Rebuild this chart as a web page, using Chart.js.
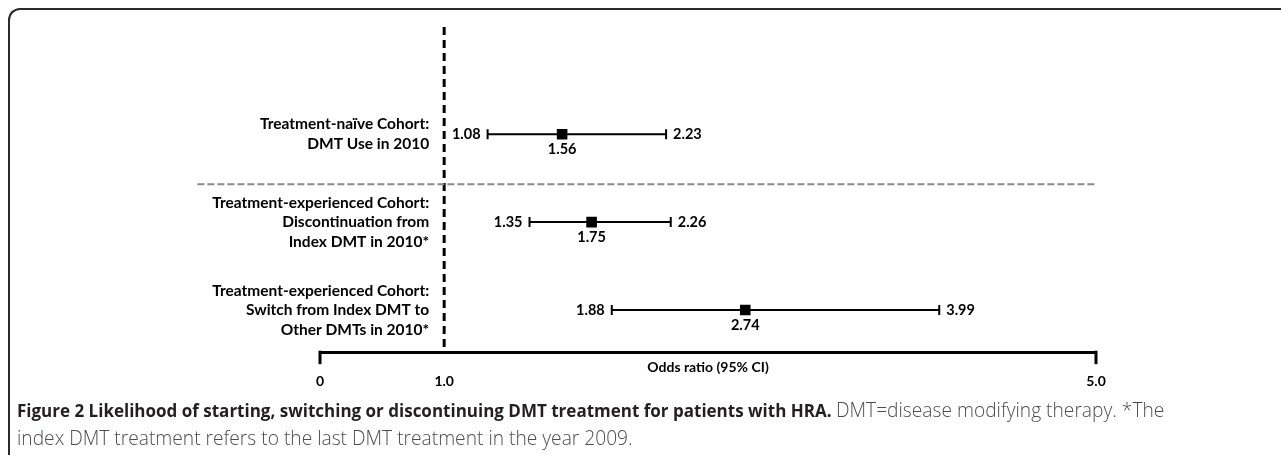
<!DOCTYPE html>
<html lang="en">
<head>
<meta charset="utf-8">
<title>Figure 2</title>
<script src="https://cdn.jsdelivr.net/npm/chart.js@4.4.0/dist/chart.umd.min.js"></script>
<style>
  html, body { margin: 0; padding: 0; background: #fff; }
  body { width: 1281px; height: 455px; position: relative; overflow: hidden; }
  #marco {
    position: absolute; left: 8px; top: 8px; width: 1320px; height: 500px;
    border-left: 2px solid #2b2b2b; border-top: 2px solid #2b2b2b;
    border-top-left-radius: 12px; box-sizing: border-box;
  }
  #grafico { position: absolute; left: 0; top: 0; }
  #leyenda {
    position: absolute; left: 17px; top: 396px; width: 1260px; white-space: nowrap;
    font-family: "Open Sans", sans-serif; font-size: 17px; line-height: 27px; color: #4d4d4d;
  }
  #leyenda b { color: #231f20; font-weight: 700; }
  #leyenda span { font-weight: 300; font-size: 19.2px; }
</style>
</head>
<body>
<div id="marco"></div>
<canvas id="grafico" width="1281" height="420"></canvas>
<div id="leyenda"><b>Figure 2 Likelihood of starting, switching or discontinuing DMT treatment for patients with HRA.</b> <span>DMT=disease modifying therapy. *The<br>index DMT treatment refers to the last DMT treatment in the year 2009.</span></div>

<script>
// ====== DATOS ======
// Etiquetas de cada fila (cada una en varias líneas)
const categorias = [
  ['Treatment-naïve Cohort:', 'DMT Use in 2010'],
  ['Treatment-experienced Cohort:', 'Discontinuation from', 'Index DMT in 2010*'],
  ['Treatment-experienced Cohort:', 'Switch from Index DMT to', 'Other DMTs in 2010*']
];
const oddsRatio = [1.56, 1.75, 2.74]; // punto central
const icBajo = [1.08, 1.35, 1.88];    // límite inferior IC 95%
const icAlto = [2.23, 2.26, 3.99];    // límite superior IC 95%
const filas = [1, 2, 3];              // posición de cada fila en el eje y

// Ticks del eje x (en la figura la línea "1.0" está dibujada en esta posición)
const ticksX = [0, 0.8, 5];
const ticksXTexto = ['0', '1.0', '5.0'];
const lineaRef = 0.8;
// Separador gris entre cohortes
const separadorY = 1.57;
const separadorX = [-0.79, 4.99];

const FUENTE = 'Lato, "Open Sans", sans-serif';

// ====== DATASETS ======
// Una línea por intervalo de confianza, con topes verticales
const datasetsIC = filas.map((f, i) => ({
  type: 'scatter',
  data: [{ x: icBajo[i], y: f }, { x: icAlto[i], y: f }],
  showLine: true,
  borderColor: '#000',
  borderWidth: 2,
  pointStyle: 'line',
  rotation: 90,
  pointRadius: 5,
  pointBorderWidth: 2,
  pointBorderColor: '#000'
}));

// Cuadrados del odds ratio
const datasetPuntos = {
  type: 'scatter',
  data: filas.map((f, i) => ({ x: oddsRatio[i], y: f })),
  pointStyle: 'rect',
  pointRadius: 7.5,
  backgroundColor: '#000',
  borderColor: '#000',
  borderWidth: 0
};

// Línea vertical discontinua de referencia
const datasetRef = {
  type: 'scatter',
  data: [{ x: lineaRef, y: -0.22 }, { x: lineaRef, y: 3.48 }],
  showLine: true,
  borderColor: '#000',
  borderWidth: 3,
  borderDash: [8, 5],
  pointRadius: 0
};

// Separador horizontal gris
const datasetSeparador = {
  type: 'scatter',
  data: separadorX.map(x => ({ x: x, y: separadorY })),
  showLine: true,
  borderColor: '#8a8a8a',
  borderWidth: 2,
  borderDash: [7, 3],
  pointRadius: 0,
  clip: false
};

// ====== PLUGIN DE TEXTOS ======
// Dibuja etiquetas de filas, valores, topes del eje y título del eje
const textos = {
  id: 'textos',
  afterDraw(chart) {
    const ctx = chart.ctx;
    const xs = chart.scales.x;
    const ys = chart.scales.y;
    ctx.save();
    ctx.fillStyle = '#000';

    // Etiquetas de las filas (alineadas a la derecha de la línea de referencia)
    ctx.font = 'bold 15.5px ' + FUENTE;
    ctx.textAlign = 'right';
    ctx.textBaseline = 'middle';
    const xEtiq = xs.getPixelForValue(lineaRef) - 15;
    categorias.forEach((lineas, i) => {
      const yc = ys.getPixelForValue(filas[i]);
      const alto = 19.5;
      lineas.forEach((t, j) => {
        ctx.fillText(t, xEtiq, yc + (j - (lineas.length - 1) / 2) * alto);
      });
    });

    // Valores junto a cada intervalo
    ctx.font = 'bold 14.5px ' + FUENTE;
    filas.forEach((f, i) => {
      const y = ys.getPixelForValue(f);
      ctx.textAlign = 'right';
      ctx.textBaseline = 'middle';
      ctx.fillText(icBajo[i].toFixed(2), xs.getPixelForValue(icBajo[i]) - 7, y);
      ctx.textAlign = 'left';
      ctx.fillText(icAlto[i].toFixed(2), xs.getPixelForValue(icAlto[i]) + 7, y);
      ctx.textAlign = 'center';
      ctx.textBaseline = 'top';
      ctx.fillText(oddsRatio[i].toFixed(2), xs.getPixelForValue(oddsRatio[i]), y + 8);
    });

    // Topes del eje x en 0 y 5
    const yEje = chart.chartArea.bottom;
    ctx.strokeStyle = '#000';
    ctx.lineWidth = 3;
    [ticksX[0], ticksX[ticksX.length - 1]].forEach(v => {
      const x = xs.getPixelForValue(v);
      ctx.beginPath();
      ctx.moveTo(x, yEje - 1.5);
      ctx.lineTo(x, yEje + 12);
      ctx.stroke();
    });

    // Título del eje
    ctx.font = 'bold 14px ' + FUENTE;
    ctx.textAlign = 'center';
    ctx.textBaseline = 'middle';
    ctx.fillText('Odds ratio (95% CI)', (chart.chartArea.left + chart.chartArea.right) / 2, yEje + 15);
    ctx.restore();
  }
};

// ====== GRÁFICO ======
const ctx = document.getElementById('grafico').getContext('2d');
new Chart(ctx, {
  type: 'scatter',
  data: { datasets: [datasetSeparador, datasetRef, ...datasetsIC, datasetPuntos] },
  options: {
    responsive: false,
    animation: false,
    devicePixelRatio: 1,
    layout: { padding: { left: 320, right: 185, top: 27, bottom: 9 } },
    plugins: { legend: { display: false }, tooltip: { enabled: false } },
    scales: {
      x: {
        type: 'linear',
        min: 0,
        max: 5,
        grid: { display: false, drawTicks: false },
        border: { display: true, color: '#000', width: 3 },
        afterBuildTicks: s => { s.ticks = ticksX.map(v => ({ value: v })); },
        ticks: {
          autoSkip: false,
          maxRotation: 0,
          padding: 21,
          color: '#000',
          font: { family: FUENTE, size: 14, weight: 'bold' },
          callback: (v, i) => ticksXTexto[i]
        }
      },
      y: {
        type: 'linear',
        display: false,
        reverse: true,
        min: -0.22,
        max: 3.48
      }
    }
  },
  plugins: [textos]
});
</script>
</body>
</html>
